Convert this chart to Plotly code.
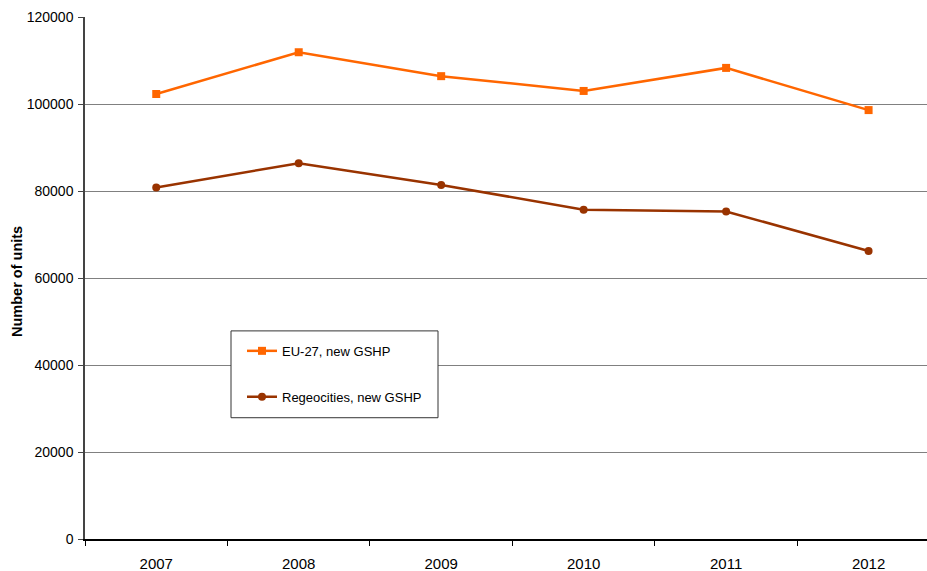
import plotly.graph_objects as go

years = ["2007", "2008", "2009", "2010", "2011", "2012"]
eu27_new_gshp = [102300, 111900, 106400, 103000, 108300, 98600]
regeocities_new_gshp = [80800, 86400, 81400, 75700, 75300, 66200]
y_ticks = [0, 20000, 40000, 60000, 80000, 100000, 120000]

FONT = "Liberation Sans, Arial, sans-serif"

fig = go.Figure()
fig.add_trace(go.Scatter(
    x=years, y=eu27_new_gshp, name="EU-27, new GSHP",
    mode="lines+markers", legendgroup="a",
    line=dict(color="#FF6600", width=2.5),
    marker=dict(symbol="square", size=8, color="#FF6600"),
))
fig.add_trace(go.Scatter(
    x=years, y=regeocities_new_gshp, name="Regeocities, new GSHP",
    mode="lines+markers", legendgroup="b",
    line=dict(color="#993300", width=2.5),
    marker=dict(symbol="circle", size=8, color="#993300"),
))

# legend frame
fig.add_shape(type="rect", xref="paper", yref="paper",
              x0=(231 - 85) / 842, x1=(438 - 85) / 842,
              y0=(539.5 - 418) / 523, y1=(539.5 - 331) / 523,
              line=dict(color="#333333", width=1), fillcolor="white", layer="above")

fig.add_annotation(text="<b>Number of units</b>", xref="paper", yref="paper",
                   x=(17 - 85) / 842, y=(539.5 - 282) / 523, textangle=-90,
                   xanchor="center", yanchor="middle",
                   showarrow=False, font=dict(family=FONT, size=14.5, color="black"))

fig.update_layout(
    width=927, height=571,
    margin=dict(l=85, r=0, t=16.5, b=31.5),
    paper_bgcolor="white", plot_bgcolor="white",
    font=dict(family=FONT, color="black"),
    showlegend=True,
    legend=dict(x=(242 - 85) / 842, y=(539.5 - 336) / 523, xanchor="left", yanchor="top",
                bgcolor="rgba(0,0,0,0)", borderwidth=0,
                font=dict(family=FONT, size=13, color="black"),
                traceorder="grouped", tracegroupgap=26),
    xaxis=dict(type="category", range=[-0.5, 5.41], tickson="boundaries",
               ticks="outside", ticklen=5, tickcolor="black",
               ticklabelstandoff=10,
               showgrid=False, showline=True, linecolor="black", linewidth=1.5,
               tickfont=dict(size=15, family=FONT, color="black")),
    yaxis=dict(range=[0, 120000], tickvals=y_ticks, tickformat="d",
               ticks="outside", ticklen=5, tickcolor="#444",
               ticklabelstandoff=2,
               showgrid=True, gridcolor="#808080", gridwidth=1.2,
               zeroline=True, zerolinecolor="black", zerolinewidth=1.5,
               showline=True, linecolor="#444", linewidth=1.5,
               tickfont=dict(size=14, family=FONT, color="black")),
)

fig.write_html("out.html")
